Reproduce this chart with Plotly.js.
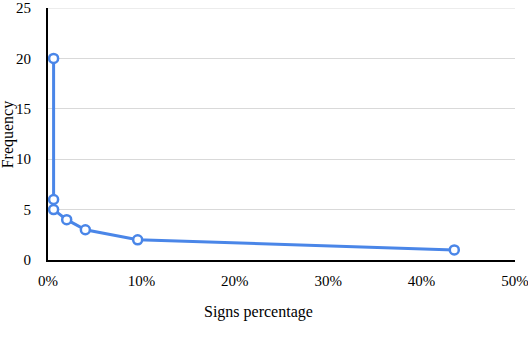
<!DOCTYPE html>
<html>
<head>
<meta charset="utf-8">
<script src="https://cdn.plot.ly/plotly-3.0.1.min.js"></script>
<style>
  html, body { margin: 0; padding: 0; background: #fff; }
  #plotArea { width: 528px; height: 352px; }
</style>
</head>
<body>
<div id="plotArea"></div>
<script>
// signs percentage (x, in %) against frequency (y)
var signsPct = [0.6, 0.6, 0.6, 2.0, 4.0, 9.6, 43.5];
var frequency = [20, 6, 5, 4, 3, 2, 1];

var xTicks = [0, 10, 20, 30, 40, 50];
var xTickText = ["0%", "10%", "20%", "30%", "40%", "50%"];
var yTicks = [0, 5, 10, 15, 20, 25];

var xTitle = "Signs percentage";
var yTitle = "Frequency";

var serif = "'Liberation Serif', 'Times New Roman', serif";

var trace = {
  x: signsPct,
  y: frequency,
  type: "scatter",
  mode: "lines+markers",
  line: {color: "#4a86e8", width: 3},
  marker: {
    symbol: "circle",
    size: 9,
    color: "#ffffff",
    line: {color: "#4a86e8", width: 2.5}
  },
  cliponaxis: false,
  hoverinfo: "skip"
};

var layout = {
  width: 528,
  height: 352,
  margin: {l: 48, r: 13, t: 8, b: 92},
  paper_bgcolor: "#ffffff",
  plot_bgcolor: "#ffffff",
  showlegend: false,
  font: {family: serif, size: 15, color: "#000"},
  xaxis: {
    range: [0, 50],
    tickvals: xTicks,
    ticktext: xTickText,
    tickfont: {family: serif, size: 15, color: "#000"},
    ticklabeloverflow: "allow",
    showgrid: false,
    zeroline: false,
    showline: true,
    linecolor: "#000",
    linewidth: 2,
    ticks: "outside",
    ticklen: 6,
    tickcolor: "rgba(0,0,0,0)",
    automargin: false
  },
  yaxis: {
    range: [0, 25],
    tickvals: yTicks,
    tickfont: {family: serif, size: 15, color: "#000"},
    ticklabeloverflow: "allow",
    showgrid: true,
    gridcolor: "#d9d9d9",
    gridwidth: 1,
    zeroline: false,
    showline: true,
    linecolor: "#000",
    linewidth: 2,
    ticks: "outside",
    ticklen: 12,
    tickcolor: "rgba(0,0,0,0)",
    automargin: false
  },
  shapes: [
    // top grid line at 25 (Plotly skips the grid at the range edge)
    {type: "line", xref: "paper", yref: "y", x0: 0, x1: 1, y0: 25, y1: 25,
     line: {color: "#d9d9d9", width: 1}, layer: "below"}
  ],
  annotations: [
    {
      text: xTitle,
      xref: "paper", yref: "paper",
      x: 0.45, y: -0.205,
      xanchor: "center", yanchor: "middle",
      showarrow: false,
      font: {family: serif, size: 16}
    },
    {
      text: yTitle,
      xref: "paper", yref: "paper",
      x: -0.085, y: 0.5,
      xanchor: "center", yanchor: "middle",
      textangle: -90,
      showarrow: false,
      font: {family: serif, size: 16}
    }
  ]
};

Plotly.newPlot("plotArea", [trace], layout, {displayModeBar: false, staticPlot: true});
</script>
</body>
</html>
